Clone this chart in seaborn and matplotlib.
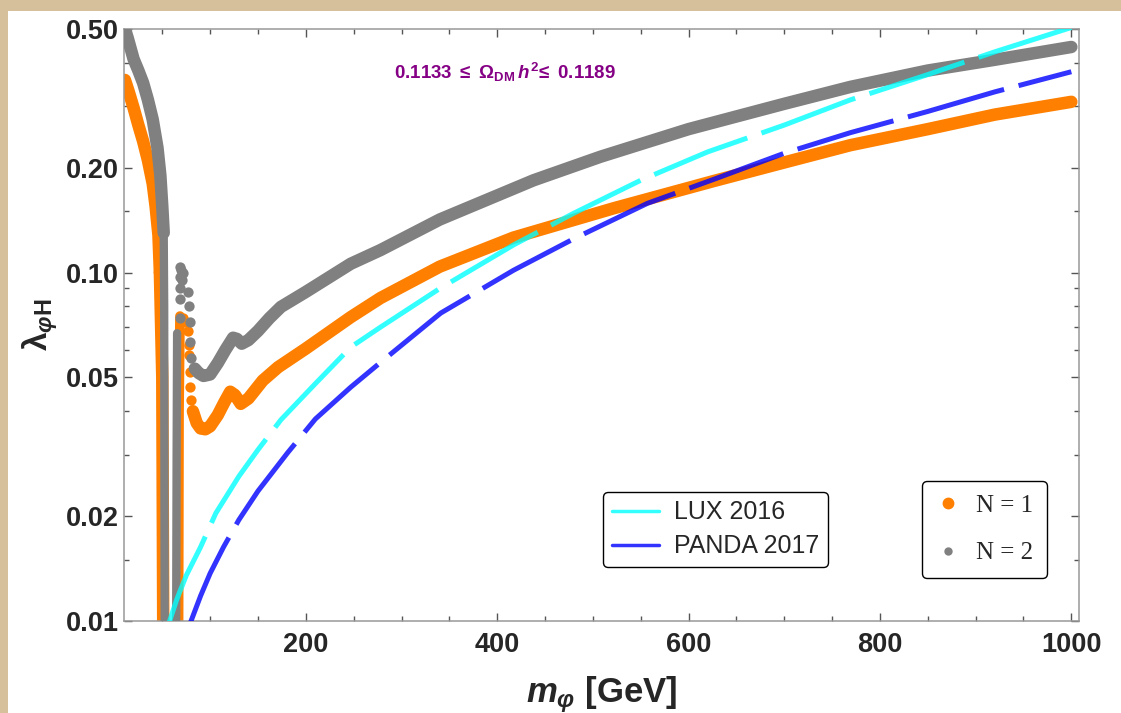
"""lambda_phiH vs m_phi for the relic density band"""

import seaborn as sns
import matplotlib.pyplot as plt
from matplotlib.lines import Line2D
from matplotlib.patches import Rectangle
from matplotlib.ticker import FixedLocator, NullFormatter

# ----------------- data ----------------- #

# N = 1 (orange)
n1_left_m = [11, 15, 20, 25, 30, 35, 40, 43, 46, 47.5]
n1_left_lam = [0.357, 0.33, 0.297, 0.265, 0.238, 0.21, 0.18, 0.155, 0.128, 0.10]
n1_col1_m = [47.5, 50, 51]
n1_col1_lam = [0.10, 0.05, 0.0095]
n1_col2_m = [67, 67.5, 68.5]
n1_col2_lam = [0.0095, 0.04, 0.075]
n1_dip_m = [72, 75, 77, 78, 78, 79, 79, 80]
n1_dip_lam = [0.074, 0.072, 0.068, 0.062, 0.058, 0.052, 0.047, 0.043]
n1_right_m = [82, 86, 90, 95, 100, 108, 115, 121, 126, 132, 140, 155, 171, 200,
              247, 278, 340, 417, 522, 626, 700, 769, 850, 920, 1000]
n1_right_lam = [0.040, 0.037, 0.0357, 0.0355, 0.0362, 0.039, 0.0425, 0.0455, 0.0445,
                0.042, 0.0435, 0.049, 0.0535, 0.0605, 0.0745, 0.0845, 0.104, 0.126,
                0.153, 0.183, 0.207, 0.232, 0.258, 0.284, 0.309]

# N = 2 (gray)
n2_left_m = [11, 14, 20, 25, 30, 35, 40, 45, 48, 50, 51.5]
n2_left_lam = [0.50, 0.47, 0.41, 0.38, 0.35, 0.313, 0.275, 0.228, 0.19, 0.155, 0.13]
n2_col1_m = [51.5, 52, 52.5]
n2_col1_lam = [0.13, 0.08, 0.0095]
n2_col2_m = [64.5, 65, 65.5]
n2_col2_lam = [0.0095, 0.03, 0.067]
n2_dip_m = [68, 70, 72, 69, 71, 68, 77, 68, 78, 68, 79, 79, 80]
n2_dip_lam = [0.104, 0.102, 0.100, 0.097, 0.095, 0.090, 0.088, 0.084, 0.080,
              0.074, 0.072, 0.063, 0.057]
n2_right_m = [84, 88, 93, 100, 108, 116, 124, 128, 133, 140, 150, 162, 174, 200,
              247, 278, 340, 438, 508, 600, 700, 769, 850, 920, 1000]
n2_right_lam = [0.053, 0.0515, 0.0505, 0.051, 0.055, 0.060, 0.065, 0.0645, 0.0625,
                0.064, 0.068, 0.074, 0.0797, 0.088, 0.106, 0.116, 0.142, 0.184,
                0.215, 0.258, 0.305, 0.341, 0.38, 0.408, 0.444]

# direct detection limits
lux_m = [55, 65, 75, 90, 106, 130, 150, 174, 210, 247, 278, 340, 417, 480, 550,
         620, 700, 769, 850, 920, 1000]
lux_lam = [0.0095, 0.0115, 0.0135, 0.0163, 0.0204, 0.026, 0.031, 0.0378, 0.048,
           0.0611, 0.0697, 0.090, 0.120, 0.148, 0.184, 0.222, 0.265, 0.313, 0.37,
           0.43, 0.505]
panda_m = [77, 90, 100, 114, 130, 150, 181, 210, 247, 278, 341, 417, 480, 557, 626,
           700, 769, 850, 920, 1000]
panda_lam = [0.0095, 0.0118, 0.0137, 0.0163, 0.0195, 0.0236, 0.0304, 0.038, 0.0469,
             0.0552, 0.0765, 0.1015, 0.125, 0.158, 0.185, 0.22, 0.252, 0.29, 0.33,
             0.377]

y_major = [0.01, 0.02, 0.05, 0.1, 0.2, 0.5]
y_major_labels = ['0.01', '0.02', '0.05', '0.10', '0.20', '0.50']
y_minor = [0.015, 0.03, 0.04, 0.06, 0.07, 0.08, 0.09, 0.15, 0.3, 0.4]
x_major = [200, 400, 600, 800, 1000]
x_minor = [50, 100, 150, 250, 300, 350, 450, 500, 550, 650, 700, 750, 850, 900, 950]

ORANGE = '#ff8000'
GRAY = '#808080'
CYAN = '#00ffff'
BLUE = '#0000ff'


def draw_line(ax, m, lam, color, width, z, alpha=1.0):
    sns.lineplot(x=m, y=lam, color=color, linewidth=width, sort=False, estimator=None,
                 solid_capstyle='round', alpha=alpha, ax=ax, zorder=z, legend=False)
    return ax.lines[-1]


def draw_dots(ax, m, lam, color, z):
    sns.scatterplot(x=m, y=lam, color=color, s=55, linewidth=0, ax=ax, zorder=z,
                    legend=False)


sns.set_style("ticks")
plt.rcParams['font.family'] = ['Liberation Sans', 'DejaVu Sans']
plt.rcParams['mathtext.fontset'] = 'custom'
plt.rcParams['mathtext.rm'] = 'Liberation Sans:bold'
plt.rcParams['mathtext.it'] = 'Liberation Sans:italic:bold'
plt.rcParams['mathtext.bf'] = 'Liberation Sans:bold'

fig = plt.figure(figsize=(11.21, 7.13), dpi=100, facecolor='#d6c09b')
fig.add_artist(Rectangle((8 / 1121, 0), 1, (713 - 11) / 713, transform=fig.transFigure,
                         facecolor='white', edgecolor='none', zorder=0))
ax = fig.add_axes([124 / 1121, 1 - 621 / 713, (1079 - 124) / 1121, (621 - 29) / 713])
ax.set_facecolor('white')

# N = 1
draw_line(ax, n1_left_m, n1_left_lam, ORANGE, 9, 2)
draw_line(ax, n1_col1_m, n1_col1_lam, ORANGE, 9, 2)
draw_line(ax, n1_col2_m, n1_col2_lam, ORANGE, 7, 2)
draw_dots(ax, n1_dip_m, n1_dip_lam, ORANGE, 2)
draw_line(ax, n1_right_m, n1_right_lam, ORANGE, 9, 2)

# N = 2
draw_line(ax, n2_left_m, n2_left_lam, GRAY, 9, 3)
draw_line(ax, n2_col1_m, n2_col1_lam, GRAY, 6, 3)
draw_line(ax, n2_col2_m, n2_col2_lam, GRAY, 6, 3)
draw_dots(ax, n2_dip_m, n2_dip_lam, GRAY, 3)
draw_line(ax, n2_right_m, n2_right_lam, GRAY, 9, 3)

# limits
lux = draw_line(ax, lux_m, lux_lam, CYAN, 3.6, 4, alpha=0.8)
lux.set_solid_capstyle('butt')
lux.set_dashes([20, 3])
panda = draw_line(ax, panda_m, panda_lam, BLUE, 3.6, 4, alpha=0.8)
panda.set_solid_capstyle('butt')
panda.set_dashes([20, 3])

ax.set_yscale('log')
ax.set_xlim(10, 1008)
ax.set_ylim(0.01, 0.5)
ax.set_yticks(y_major)
ax.set_yticklabels(y_major_labels)
ax.yaxis.set_minor_locator(FixedLocator(y_minor))
ax.yaxis.set_minor_formatter(NullFormatter())
ax.set_xticks(x_major)
ax.set_xticklabels([str(v) for v in x_major])
ax.xaxis.set_minor_locator(FixedLocator(x_minor))

ax.tick_params(which='both', direction='in', top=True, right=True, color='#555555',
               width=1)
ax.tick_params(which='major', length=6)
ax.tick_params(which='minor', length=3.5)
ax.tick_params(axis='x', which='major', labelsize=19.5, pad=8)
ax.tick_params(axis='y', which='major', labelsize=19.5, pad=4)
for lbl in ax.get_xticklabels() + ax.get_yticklabels():
    lbl.set_fontweight('bold')
for sp in ax.spines.values():
    sp.set_color('#999999')
    sp.set_linewidth(1.1)

ax.set_xlabel(r'$m_{\varphi}$ [GeV]', fontsize=25, fontweight='bold')
ax.xaxis.set_label_coords(0.5, -0.09)
ax.set_ylabel(r'$\mathrm{\lambda}_{\varphi\mathrm{H}}$', fontsize=24)
ax.yaxis.set_label_coords(-0.067, 0.5)

ax.text(0.399, 0.927, r'0.1133 $\leq$ $\Omega_{\mathrm{DM}}\,h^{2}\!\leq$ 0.1189',
        transform=ax.transAxes, ha='center', va='center', fontsize=13.5,
        fontweight='bold', color='#850085')

# legends
lim_handles = [Line2D([], [], color=CYAN, alpha=0.8, lw=2.5),
               Line2D([], [], color=BLUE, alpha=0.8, lw=2.5)]
leg1 = ax.legend(lim_handles, ['LUX 2016', 'PANDA 2017'], loc='lower left',
                 bbox_to_anchor=(0.5016, 0.0912), borderaxespad=0,
                 prop={'family': 'Liberation Sans', 'size': 18},
                 handlelength=1.9, handletextpad=0.6, labelspacing=0.4,
                 borderpad=0.35, fancybox=True, framealpha=1, edgecolor='black')
leg1.get_frame().set_linewidth(1.0)
ax.add_artist(leg1)

n_handles = [Line2D([], [], ls='none', marker='o', color=ORANGE, markersize=7.5),
             Line2D([], [], ls='none', marker='o', color=GRAY, markersize=5)]
leg2 = ax.legend(n_handles, ['N = 1', 'N = 2'], loc='lower left',
                 bbox_to_anchor=(0.8356, 0.0726), borderaxespad=0,
                 prop={'family': 'Liberation Serif', 'size': 18},
                 handlelength=1.0, handletextpad=0.6, labelspacing=1.0,
                 borderpad=0.55, fancybox=True, framealpha=1, edgecolor='black')
leg2.get_frame().set_linewidth(1.0)

fig.savefig('out.png', dpi=100, facecolor=fig.get_facecolor())
